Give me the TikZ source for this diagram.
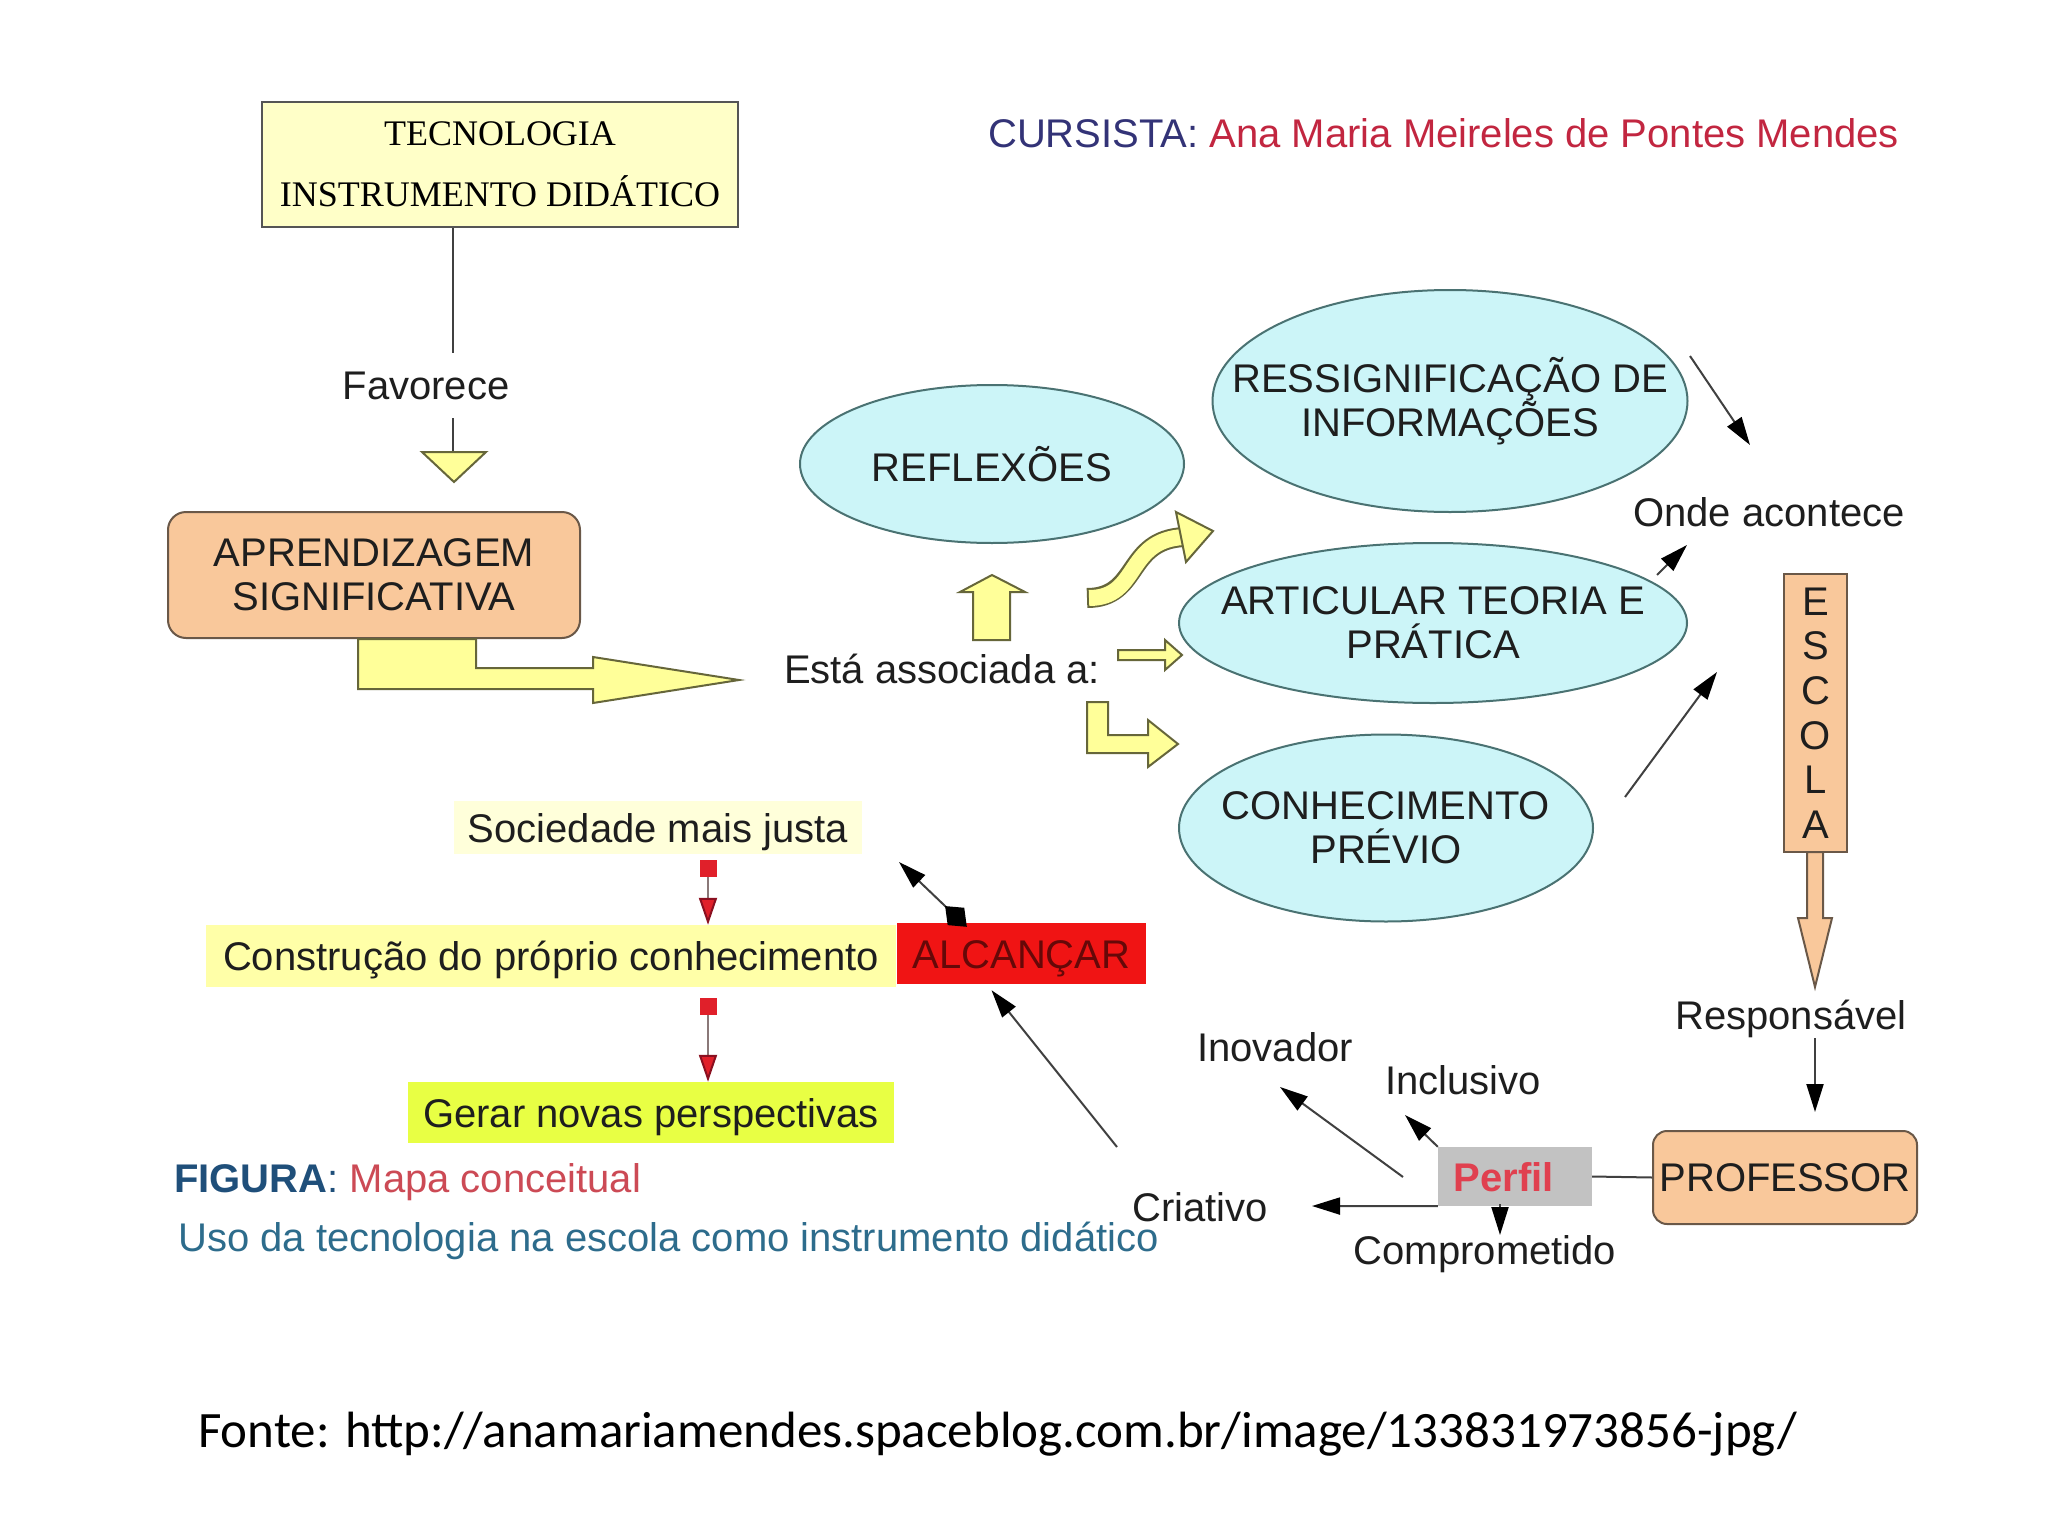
\documentclass[tikz,border=0pt]{standalone}
\usepackage{fontspec}
\setmainfont{Liberation Sans}
\newfontfamily\tecfont{Liberation Serif}
\newfontfamily\footfont{Carlito}
\usetikzlibrary{shapes.geometric,arrows.meta,calc}
\definecolor{txt}{HTML}{1E1E1E}
\definecolor{tecfill}{HTML}{FFFFC8}
\definecolor{tecborder}{HTML}{555555}
\definecolor{peach}{HTML}{F9C89B}
\definecolor{peachborder}{HTML}{6A5848}
\definecolor{ayellow}{HTML}{FFFF99}
\definecolor{aborder}{HTML}{66663A}
\definecolor{cyanfill}{HTML}{CCF5F8}
\definecolor{ellborder}{HTML}{4A7272}
\definecolor{linegray}{HTML}{404040}
\definecolor{socfill}{HTML}{FFFFDA}
\definecolor{consfill}{HTML}{FFFFA8}
\definecolor{gerfill}{HTML}{E8FF44}
\definecolor{alcred}{HTML}{F01414}
\definecolor{alctext}{HTML}{660808}
\definecolor{perfgray}{HTML}{C2C2C2}
\definecolor{perfred}{HTML}{E0404F}
\definecolor{sqred}{HTML}{E0202A}
\definecolor{sqdark}{HTML}{8A1020}
\definecolor{redline}{HTML}{8A7878}
\definecolor{figblue}{HTML}{1F4F7A}
\definecolor{figred}{HTML}{CC4A55}
\definecolor{usoblue}{HTML}{2D6C8C}
\definecolor{cursnavy}{HTML}{333377}
\definecolor{cursred}{HTML}{C22640}
\begin{document}
\begin{tikzpicture}[x=1pt,y=-1pt,
  txtbase/.style={font=\fontsize{40}{44}\selectfont, text=txt, inner sep=0pt},
  lbl/.style={txtbase, text height=29pt, text depth=0pt},
  ml/.style={txtbase, align=center},
  ell/.style={ellipse, draw=ellborder, fill=cyanfill, line width=2pt, inner sep=0pt},
  peachbox/.style={rectangle, rounded corners=18pt, draw=peachborder, fill=peach, line width=2pt, txtbase, align=center},
  conn/.style={draw=linegray, line width=2pt},
  arr/.style={conn, -{Triangle[length=28pt,width=17pt,color=black]}},
  yarrow/.style={fill=ayellow, draw=aborder, line width=2pt, line join=miter},
  parrow/.style={fill=peach, draw=peachborder, line width=2pt, line join=miter},
  redarr/.style={draw=redline, line width=2pt, {Rectangle[length=17pt,width=17pt,color=sqred]}-{Triangle[length=27pt,width=18pt,color=sqdark,fill=sqred]}},
  bgbox/.style={rectangle, lbl},
]
\useasboundingbox (0,0) rectangle (2048,1536);
\fill[white] (0,0) rectangle (2048,1536);

% header
\node[lbl, anchor=west] (curs) at (988,133) {{\color{cursnavy}CURSISTA:} {\color{cursred}Ana Maria Meireles de Pontes Mendes}};

% TECNOLOGIA
\node[rectangle, draw=tecborder, fill=tecfill, line width=2pt, minimum width=476pt, minimum height=125pt, inner sep=0pt, align=center, text=black, font=\tecfont\fontsize{36}{61}\selectfont] (tec) at (500,164.5) {TECNOLOGIA\\INSTRUMENTO DIDÁTICO};
\node[lbl] (fav) at (426,385) {Favorece};
\coordinate (f1) at (453,353);
\coordinate (f2) at (453,418);
\coordinate (f3) at (453,452);
\draw[conn] (tec.south -| f1) -- (f1);
\draw[conn] (f2) -- (f3);
\draw[yarrow] (422,452) -- (486,452) -- (454,482) -- cycle;

% APRENDIZAGEM
\node[peachbox, minimum width=412pt, minimum height=126pt] (apr) at (374,575) {APRENDIZAGEM\\SIGNIFICATIVA};
\draw[yarrow] (358,639) -- (476,639) -- (476,668) -- (593,668) -- (593,657) -- (739,680) -- (593,703) -- (593,689) -- (358,689) -- cycle;

\node[lbl] (assoc) at (942,669) {Está associada a:};

% ellipses
\node[ell, minimum width=384pt, minimum height=158pt] (refl) at (992,464) {};
\node[ml] (reflt) at (refl.center) {REFLEXÕES};
\node[ell, minimum width=475pt, minimum height=222pt] (ress) at (1450,401) {};
\node[ml] (resst) at (ress.center) {RESSIGNIFICAÇÃO DE\\INFORMAÇÕES};
\node[ell, minimum width=508pt, minimum height=160pt] (artic) at (1433,623) {};
\node[ml] (artict) at (artic.center) {ARTICULAR TEORIA E\\PRÁTICA};
\node[ell, minimum width=414pt, minimum height=187pt] (conh) at (1386,828) {};
\node[ml] (conht) at (conh.center) {CONHECIMENTO\\PRÉVIO};

% yellow block arrows from "Esta associada a"
\draw[yarrow] (973,640) -- (973,592) -- (960,592) -- (992,575) -- (1025,592) -- (1010,592) -- (1010,640) -- cycle;
\draw[aborder, line width=20pt] (1087,598) .. controls (1140,598) and (1125,540) .. (1184,537);
\draw[ayellow, line width=16pt, shorten <=2pt] (1087,598) .. controls (1140,598) and (1125,540) .. (1184,537);
\draw[yarrow] (1176,512) -- (1213,531) -- (1186,562) -- cycle;
\draw[yarrow] (1118,650) -- (1165,650) -- (1165,640) -- (1182,655) -- (1165,670) -- (1165,660) -- (1118,660) -- cycle;
\draw[yarrow] (1087,702) -- (1108,702) -- (1108,735) -- (1148,735) -- (1148,720) -- (1178,744) -- (1148,767) -- (1148,753) -- (1087,753) -- cycle;

% Onde acontece
\node[lbl] (onde) at (1769,512) {Onde acontece};
\coordinate (o1s) at (1690,356); \coordinate (o1e) at (1750,445);
\coordinate (o2s) at (1657,575); \coordinate (o2e) at (1687,545);
\coordinate (o3s) at (1625,797); \coordinate (o3e) at (1717,672);
\draw[arr] (o1s) -- (o1e);
\draw[arr] (o2s) -- (o2e);
\draw[arr] (o3s) -- (o3e);

% ESCOLA
\node[rectangle, draw=peachborder, fill=peach, line width=2pt, minimum width=63pt, minimum height=278pt, inner sep=0pt, align=center, text=txt, font=\fontsize{40}{44.6}\selectfont] (esc) at (1815.5,713) {E\\S\\C\\O\\L\\A};
\draw[parrow] (1807,852) -- (1807,918) -- (1798,918) -- (1815,987) -- (1832,918) -- (1823,918) -- (1823,852) -- cycle;

\node[lbl] (resp) at (1791,1015) {Responsável};
\node[peachbox, minimum width=264pt, minimum height=93pt, rounded corners=14pt] (prof) at (1785,1177.5) {PROFESSOR};
\coordinate (r1) at (1815,1038);
\draw[arr, shorten >=18pt] (r1) -- (r1 |- prof.north);

% Perfil
\node[rectangle, fill=perfgray, minimum width=154pt, minimum height=59pt, inner sep=0pt, text height=29pt, text depth=0pt, font=\bfseries\fontsize{40}{44}\selectfont, text=perfred] (perf) at (1515,1176.5) {Perfil\hspace*{22pt}};
\draw[conn] (perf.east) -- (prof.west);

\node[lbl] (inov) at (1275,1047) {Inovador};
\node[lbl] (incl) at (1463,1080) {Inclusivo};
\node[lbl] (cria) at (1200,1207) {Criativo};
\node[lbl] (comp) at (1485,1250) {Comprometido};
\coordinate (inclt) at (1405,1115);
\coordinate (inovs) at (1403,1177);
\coordinate (inovt) at (1280,1087);
\coordinate (criat) at (1312,1206);
\coordinate (comps) at (1500,1204);
\coordinate (compt) at (1500,1235);
\draw[arr] (perf.north west) -- (inclt);
\draw[arr] (inovs) -- (inovt);
\draw[arr] (perf.south west) -- (criat);
\draw[arr] (comps) -- (compt);

% left-bottom cluster
\node[bgbox, fill=socfill, minimum width=408pt, minimum height=53pt] (soc) at (658,827.5) {Sociedade mais justa};
\node[bgbox, fill=consfill, minimum width=690pt, minimum height=62pt] (cons) at (551,956) {Construção do próprio conhecimento};
\node[bgbox, fill=gerfill, minimum width=486pt, minimum height=61pt] (ger) at (651,1112.5) {Gerar novas perspectivas};
\node[rectangle, fill=alcred, minimum width=249pt, minimum height=61pt, inner sep=0pt, text height=29pt, text depth=0pt, font=\fontsize{40}{44}\selectfont, text=alctext] (alc) at (1021.5,953.5) {ALCANÇAR};

\coordinate (rx) at (708,0);
\draw[redarr, shorten <=6pt] (rx |- soc.south) -- (rx |- cons.north);
\draw[redarr, shorten <=11pt] (rx |- cons.south) -- (rx |- ger.north);

\coordinate (alcup) at (899,862);
\coordinate (critail) at (1117,1147);
\draw[conn, {Diamond[length=30pt,width=24pt,color=black]}-{Triangle[length=28pt,width=17pt,color=black]}] ($(alc.north west)+(70,4)$) -- (alcup);
\draw[arr] (critail) -- ($(alc.south)+(-30,6)$);

% caption
\node[lbl, anchor=west] (fig) at (174,1178) {{\bfseries\color{figblue}FIGURA}{\color{figblue}:} {\color{figred}Mapa conceitual}};
\node[lbl, anchor=west, text=usoblue] (uso) at (178,1237) {Uso da tecnologia na escola como instrumento didático};

% footer
\node[anchor=west, inner sep=0pt, text=black, text height=33pt, text depth=0pt, font=\footfont\fontsize{51}{60}\selectfont] (fonte) at (198,1431) {Fonte: http://anamariamendes.spaceblog.com.br/image/133831973856-jpg/};
\end{tikzpicture}
\end{document}
